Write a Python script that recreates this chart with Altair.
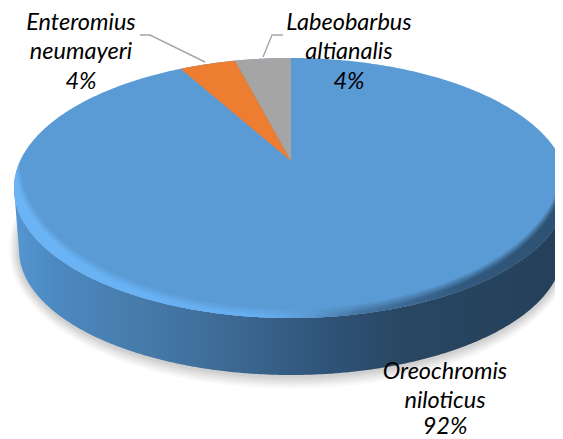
import numpy as np
import pandas as pd
import altair as alt

species = ["Oreochromis niloticus", "Enteromius neumayeri", "Labeobarbus altianalis"]
shares = [92, 4, 4]
colors = ["#5B9BD5", "#ED7D31", "#A5A5A5"]
label_lines = ["Enteromius", "neumayeri", "4%", "Labeobarbus", "altianalis", "4%",
               "Oreochromis", "niloticus", "92%"]
label_x = [81, 81, 81, 349, 349, 349, 445, 445, 445]
label_y = [23, 52, 82, 23, 52, 82, 372, 401, 427]

CX, CY, RX, RY = 291.0, 188.0, 277.0, 130.0
APEX = 161.0
BCY, BRX, BRY = 250.0, 272.0, 125.0
K = (CY - APEX) / RY
S = np.sqrt(1 - K * K)

xs = alt.Scale(domain=[8, 555], range=[0, 547], nice=False, zero=False)
ys = alt.Scale(domain=[8, 439], range=[0, 431], nice=False, zero=False)


def grid(cx, rx, n=400):
    return cx + rx * np.sin(np.linspace(-np.pi / 2, np.pi / 2, n))


def ell(x, cx, cy, rx, ry, sign):
    u = np.clip((x - cx) / rx, -1, 1)
    return cy + sign * ry * np.sqrt(1 - u * u)


def area(x, y, y2, color, opacity=1.0):
    df = pd.DataFrame({"x": x, "y": y, "y2": y2})
    return alt.Chart(df).mark_area(color=color, opacity=opacity, clip=True, interpolate="linear").encode(
        x=alt.X("x:Q", scale=xs, axis=None),
        y=alt.Y("y:Q", scale=ys, axis=None),
        y2=alt.Y2("y2"),
    )


def hgrad(stops):
    return alt.Gradient(
        gradient="linear", x1=0, x2=1, y1=0, y2=0,
        stops=[alt.GradientStop(color=c, offset=o) for o, c in stops],
    )


layers = []

# soft shadow under the disc
for grow, op in [(12, 0.05), (10, 0.06), (8, 0.07), (6, 0.08), (4, 0.09), (2, 0.10)]:
    x = grid(CX, BRX + grow * 0.8)
    layers.append(area(x, ell(x, CX, BCY - 6, BRX + grow * 0.8, BRY, -1),
                       ell(x, CX, BCY + 1, BRX + grow * 0.8, BRY + grow * 1.05, 1), "#8a8a8a", op))

# side wall
x = grid(CX, RX)
over = np.clip(np.abs(x - CX) - BRX, 0, None) / (RX - BRX)
wall_bottom = np.where(over > 0, BCY - over * (BCY - CY), ell(x, CX, BCY, BRX, BRY, 1))
wall_grad = hgrad([(0, "#5596d2"), (0.08, "#4c88bf"), (0.25, "#4579a8"), (0.42, "#3b668f"),
                   (0.55, "#30557a"), (0.7, "#294763"), (1, "#243f59")])
layers.append(area(x, ell(x, CX, CY, RX, RY, 1), wall_bottom, wall_grad))

# top face
layers.append(area(x, ell(x, CX, CY, RX, RY, -1), ell(x, CX, CY, RX, RY, 1), colors[0]))

# bevel along the front rim
rim_grad = hgrad([(0, "#6cb6f8"), (0.45, "#66b0f4"), (0.53, "#5b9bd5"), (0.62, "#44749f"),
                  (0.8, "#2f5578"), (1, "#294a69")])
RISE = 25.0
for dx, dy, op in [(6, 9, 0.25), (4.5, 6.5, 0.35), (3, 4, 0.5), (1.5, 2, 0.7)]:
    xr = grid(CX, RX)
    inner = ell(xr, CX, CY - RISE, RX - dx, RY - dy + RISE, 1)
    inner = np.maximum(inner, ell(xr, CX, CY, RX, RY, -1))
    layers.append(area(xr, inner, ell(xr, CX, CY, RX, RY, 1), rim_grad, op))


# slices: true angles from the shares, then perspective-projected on the top face
def project(t):
    w = 1 + K * np.cos(t)
    return CX - RX * S * np.sin(t) / w, CY - RY * (np.cos(t) + K) / w


def edge_line(x, px, py):
    return APEX + (x - CX) * (py - APEX) / (px - CX)


labels_order = [2, 1]  # clockwise backwards from 12 o'clock: grey, then orange
start = 0.0
for idx in labels_order:
    t1 = start
    t2 = start + shares[idx] / sum(shares) * 2 * np.pi
    p1, p2 = project(t1), project(t2)
    xw = np.linspace(p2[0], CX, 300)
    upper = ell(xw, CX, CY, RX, RY, -1)
    if t1 > 0:
        upper = np.maximum(upper, edge_line(np.minimum(xw, CX - 1e-6), *p1))
    lower = np.where(xw < CX - 1e-6, edge_line(np.minimum(xw, CX - 1e-6), *p2), APEX)
    layers.append(area(xw, upper, lower, colors[idx]))
    start = t2

# leader lines
leaders = pd.DataFrame({
    "g": ["a", "a", "a", "b", "b", "b"],
    "i": [0, 1, 2, 0, 1, 2],
    "x": [140, 150, 205, 283, 272, 263],
    "y": [35, 35, 62, 35, 35, 57],
})
layers.append(alt.Chart(leaders).mark_line(color="#A6A6A6", strokeWidth=1.4).encode(
    x=alt.X("x:Q", scale=xs, axis=None), y=alt.Y("y:Q", scale=ys, axis=None),
    detail="g:N", order="i:Q"))

# labels
labels = pd.DataFrame({"t": label_lines, "x": label_x, "y": label_y})
layers.append(alt.Chart(labels).mark_text(
    font="Lato", fontStyle="italic", fontSize=23.5, color="#000000", align="center", baseline="middle"
).encode(x=alt.X("x:Q", scale=xs, axis=None), y=alt.Y("y:Q", scale=ys, axis=None), text="t:N"))

chart = alt.layer(*layers).properties(
    width=547, height=431, padding=0, autosize=alt.AutoSizeParams(type="none"),
    background="#ffffff",
).configure_view(stroke=None)

chart.save("out.html", embed_options={"renderer": "svg", "actions": False})
